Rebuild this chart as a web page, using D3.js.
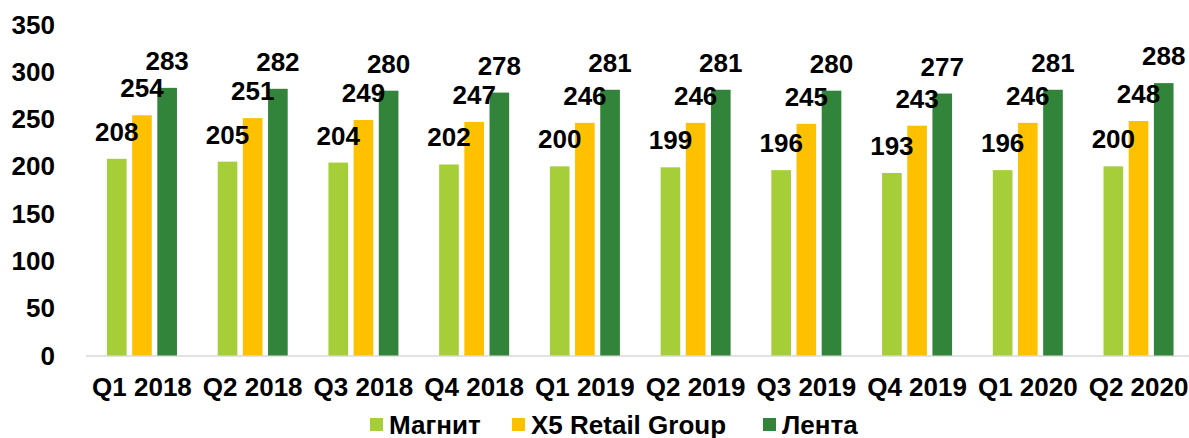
<html>
<head>
<meta charset="utf-8">
<script src="https://cdn.jsdelivr.net/npm/d3@7"></script>
<style>
body { margin: 0; background: #fff; }
text { font-family: "Liberation Sans", Arial, sans-serif; font-weight: bold; fill: #000; }
</style>
</head>
<body>
<script>

var quarters = ["Q1 2018", "Q2 2018", "Q3 2018", "Q4 2018", "Q1 2019", "Q2 2019", "Q3 2019", "Q4 2019", "Q1 2020", "Q2 2020"]
var seriesNames = ["Магнит", "X5 Retail Group", "Лента"]
var magnit = [208, 205, 204, 202, 200, 199, 196, 193, 196, 200]
var x5 = [254, 251, 249, 247, 246, 246, 245, 243, 246, 248]
var lenta = [283, 282, 280, 278, 281, 281, 280, 277, 281, 288]
var yTicks = [0, 50, 100, 150, 200, 250, 300, 350]
var colors = ["#a6ce39", "#ffc000", "#31843a"]

var W = 1189, H = 438

var svg = d3.select("body").append("svg").attr("width", W).attr("height", H)

var rows = quarters.map(function(q, i) {
  return {q: q, values: [magnit[i], x5[i], lenta[i]]}
})

var x = d3.scaleBand()
  .domain(quarters)
  .range([86.6, 1193.9])
  .paddingInner(0)
  .paddingOuter(0)

var xs = d3.scaleBand()
  .domain(d3.range(3))
  .range([-35, 35])
  .paddingInner(0.22)

var y = d3.scaleLinear()
  .domain([0, 350])
  .range([355.5, 24.5])

// y tick labels (no axis line in the original)
svg.append("g").selectAll("text")
  .data(yTicks)
  .enter().append("text")
  .attr("x", 55)
  .attr("y", function(d) { return y(d) })
  .attr("dy", "0.35em")
  .attr("text-anchor", "end")
  .attr("font-size", "26px")
  .text(function(d) { return d })

// baseline
svg.append("line")
  .attr("x1", 86).attr("x2", W)
  .attr("y1", y(0) + 0.5).attr("y2", y(0) + 0.5)
  .attr("stroke", "#d9d9d9")
  .attr("stroke-width", 1.5)

var group = svg.selectAll("g.grp")
  .data(rows)
  .enter().append("g")
  .attr("class", "grp")
  .attr("transform", function(d) { return "translate(" + (x(d.q) + x.bandwidth() / 2) + ",0)" })

group.selectAll("rect")
  .data(function(d) { return d.values })
  .enter().append("rect")
  .attr("x", function(d, i) { return xs(i) })
  .attr("width", xs.bandwidth())
  .attr("y", function(d) { return y(d) })
  .attr("height", function(d) { return y(0) - y(d) })
  .attr("fill", function(d, i) { return colors[i] })

group.selectAll("text.lbl")
  .data(function(d) { return d.values })
  .enter().append("text")
  .attr("class", "lbl")
  .attr("x", function(d, i) { return xs(i) + xs.bandwidth() / 2 })
  .attr("y", function(d) { return y(d) - 18 })
  .attr("text-anchor", "middle")
  .attr("font-size", "26px")
  .text(function(d) { return d })

// x labels
svg.append("g").selectAll("text")
  .data(quarters)
  .enter().append("text")
  .attr("x", function(d) { return x(d) + x.bandwidth() / 2 })
  .attr("y", 387)
  .attr("dy", "0.35em")
  .attr("text-anchor", "middle")
  .attr("font-size", "26px")
  .text(function(d) { return d })

// legend
var legendX = [370, 512, 763]
var legend = svg.selectAll(".legend")
  .data(seriesNames)
  .enter().append("g")
  .attr("class", "legend")
  .attr("transform", function(d, i) { return "translate(" + legendX[i] + ",425)" })

legend.append("rect")
  .attr("x", 0).attr("y", -7)
  .attr("width", 13).attr("height", 13)
  .attr("fill", function(d, i) { return colors[i] })

legend.append("text")
  .attr("x", 19)
  .attr("y", 0)
  .attr("dy", "0.35em")
  .attr("font-size", "26px")
  .text(function(d) { return d })

</script>
</body>
</html>
